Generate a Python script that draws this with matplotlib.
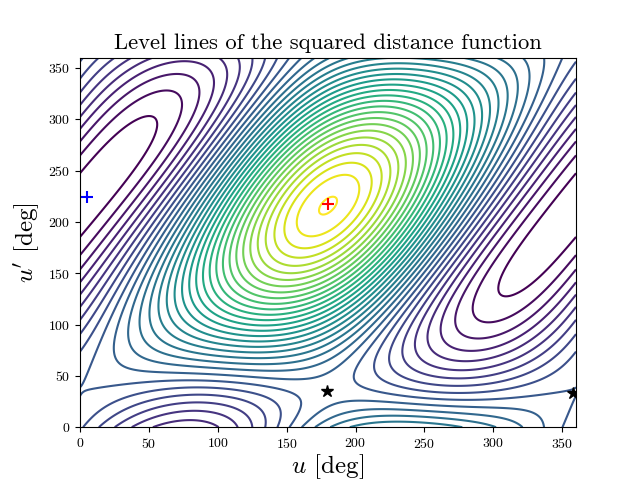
import numpy as np
import matplotlib
matplotlib.use("Agg")
import matplotlib.pyplot as plt

plt.rcParams['font.family'] = ['cmr10', 'DejaVu Sans']
plt.rcParams['mathtext.fontset'] = 'cm'
plt.rcParams['axes.formatter.use_mathtext'] = True
plt.rcParams['axes.unicode_minus'] = False

title = "Level lines of the squared distance function"
xlabel = r"$u$ [deg]"
ylabel = r"$u'$ [deg]"

n_levels = 34
xticks = [0, 50, 100, 150, 200, 250, 300, 350]
yticks = [0, 50, 100, 150, 200, 250, 300, 350]

# points read on the level lines: (u, u', level number)
line_points = [
    (0, 181, 0), (0, 251, 0), (53, 295, 0), (308, 137, 0), (360, 178, 0), (325, 183, 0), (314, 129, 0),
    (0, 164, 1), (0, 269, 1), (71, 314, 1), (288, 112, 1), (300, 102, 1),
    (0, 153, 2), (0, 285, 2), (83.5, 330, 2), (274, 95, 2), (289, 85, 2),
    (0, 141, 3), (0, 300, 3), (94, 343, 3), (263.5, 82, 3), (279, 71, 3),
    (0, 128, 4), (104, 353, 4), (54, 0, 4), (112, 0, 4), (80, 7, 4), (254, 72, 4), (277, 60, 4),
    (0, 117, 5), (39, 0, 5), (122, 0, 5), (80, 16, 5), (244, 64, 5), (277, 52, 5),
    (0, 104.5, 6), (27, 0, 6), (133, 0, 6), (80, 25, 6), (236, 62, 6), (277, 43.5, 6),
    (0, 89.5, 7), (13, 0, 7), (143, 0, 7), (80, 32, 7), (226, 58, 7),
    (0, 74, 8), (1, 0, 8), (150, 0, 8), (80, 40, 8), (156, 22, 8), (215, 53, 8),
    (0, 35, 9), (80, 46.7, 9), (174, 43.5, 9), (202, 47, 9), (277, 30, 9), (347, 360, 10),
    (25, 73, 10), (48, 55, 10), (158, 0, 10), (174, 17.6, 10), (180, 25, 10), (330, 0, 10), (180, 47, 10),
    (37.5, 95, 11), (169, 0, 11), (180, 14.5, 11), (308, 0, 11), (332, 346, 11),
    (180, 3, 12), (279, 0, 12), (321, 330, 12), (180, 358, 12), (197, 3, 13), (250, 3, 13),
    (52, 108, 13), (65, 121, 15), (300, 321, 15), (281.6, 308, 18), (269.5, 298, 20), (242, 269, 25),
    (19, 217, 0), (27, 217, 1), (34, 217, 2), (40, 217, 3), (46, 217, 4), (51, 217, 5),
    (70, 217, 10), (89, 217, 15), (108, 217, 20), (127, 217, 25),
    (232, 217, 25), (252.6, 217, 20), (273, 217, 15), (293.7, 217, 10), (314, 217, 5), (337, 217, 1), (346, 217, 0),
    (180, 281, 27), (180, 310, 22), (180, 334, 17), (180, 146, 25), (180, 114, 20), (180, 82, 15),
    (160, 210, 32), (200, 230, 32), (191, 242, 32), (169, 190, 32),
    (152, 201, 31), (208.7, 235, 31), (197, 252, 31), (167, 179, 31),
    (146, 196, 30), (200.7, 261, 30), (164.5, 168, 30), (216.7, 238, 30),
]

# stationary points: u, u', level
crit_u = [5, 180, 179, 358]
crit_v = [224.5, 217, 35, 33]
crit_l = [-0.8, 33.1, 9.5, 9.05]


def basis(u, v):
    a, b = np.radians(u), np.radians(v)
    return np.stack([np.ones_like(a), np.cos(a), np.sin(a), np.cos(2*a), np.sin(2*a),
                     np.cos(b), np.sin(b), np.cos(2*b), np.sin(2*b),
                     np.cos(a)*np.cos(b), np.cos(a)*np.sin(b),
                     np.sin(a)*np.cos(b), np.sin(a)*np.sin(b)], axis=-1)


pts = np.array(line_points, float)
su, sv, sl = pts[:, 0], pts[:, 1], pts[:, 2]
cu, cv, cl = map(lambda x: np.array(x, float), (crit_u, crit_v, crit_l))
eps = 0.5
w_val, w_grad = 10.0, 60.0
A = np.vstack([basis(su, sv),
               w_val*basis(cu, cv),
               w_grad*(basis(cu+eps, cv)-basis(cu-eps, cv))/(2*eps),
               w_grad*(basis(cu, cv+eps)-basis(cu, cv-eps))/(2*eps)])
y = np.concatenate([sl, w_val*cl, np.zeros(len(cu)), np.zeros(len(cu))])
coef = np.linalg.lstsq(A, y, rcond=None)[0]

g = np.linspace(0, 360, 361)
U, V = np.meshgrid(g, g)
Z = basis(U, V) @ coef

fig, ax = plt.subplots(figsize=(6.4, 4.8), dpi=100)
ax.contour(U, V, Z, levels=np.arange(n_levels), cmap='viridis', linewidths=1.5)
ax.plot(crit_u[0], crit_v[0], '+', color='blue', ms=9, mew=1.5)
ax.plot(crit_u[1], crit_v[1], '+', color='red', ms=9, mew=1.5)
ax.plot(crit_u[2:], crit_v[2:], '*', color='black', ms=9)
ax.set_xlim(0, 360)
ax.set_ylim(0, 360)
ax.set_xticks(xticks)
ax.set_yticks(yticks)
ax.set_title(title, fontsize=16.3)
ax.set_xlabel(xlabel, fontsize=18, labelpad=1)
ax.set_ylabel(ylabel, fontsize=18)
fig.savefig("out.png", dpi=100)
